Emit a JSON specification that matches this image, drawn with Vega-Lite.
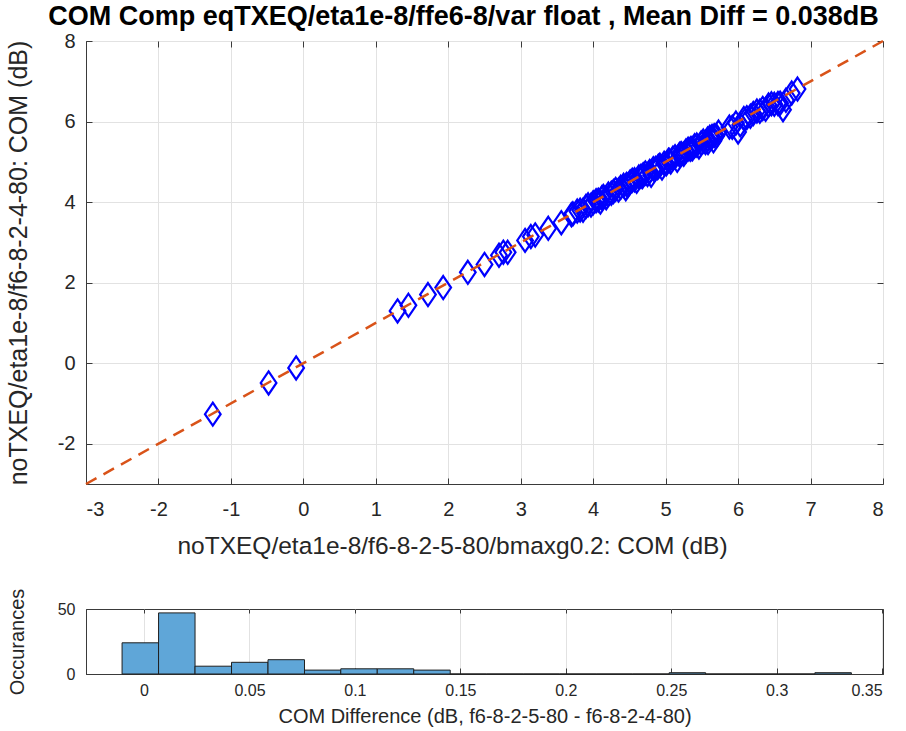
{
  "$schema": "https://vega.github.io/schema/vega-lite/v6.json",
  "background": "white",
  "padding": {"left": 5, "top": 2, "right": 5, "bottom": 0},
  "bounds": "flush",
  "spacing": 125,
  "config": {
    "font": "Liberation Sans",
    "view": {"stroke": "#3a3a3a", "strokeWidth": 1},
    "axis": {
      "labelFont": "Liberation Sans",
      "titleFont": "Liberation Sans",
      "labelColor": "#262626",
      "titleColor": "#262626",
      "titleFontWeight": "normal",
      "domainColor": "#3a3a3a",
      "tickColor": "#3a3a3a",
      "gridColor": "#e2e2e2",
      "tickSize": -6,
      "labelPadding": 17
    }
  },
  "vconcat": [
    {
      "width": 797,
      "height": 443,
      "title": {
        "text": "COM Comp eqTXEQ/eta1e-8/ffe6-8/var float , Mean Diff = 0.038dB",
        "font": "Liberation Sans",
        "fontSize": 27,
        "fontWeight": "bold",
        "color": "#000000",
        "anchor": "middle",
        "dx": -21,
        "offset": 0
      },
      "resolve": {"axis": {"x": "independent", "y": "independent"}},
      "layer": [
        {
          "data": {
            "values": [
              {"x": -1.25, "y": -1.265}, {"x": -0.48, "y": -0.49}, {"x": -0.1, "y": -0.118},
              {"x": 1.3, "y": 1.298}, {"x": 1.45, "y": 1.438}, {"x": 1.72, "y": 1.704},
              {"x": 1.93, "y": 1.878}, {"x": 2.27, "y": 2.256}, {"x": 2.5, "y": 2.452},
              {"x": 2.7, "y": 2.68}, {"x": 2.76, "y": 2.756}, {"x": 2.82, "y": 2.753},
              {"x": 3.06, "y": 3.049}, {"x": 3.14, "y": 3.144}, {"x": 3.2, "y": 3.183},
              {"x": 3.38, "y": 3.349}, {"x": 3.56, "y": 3.488}, {"x": 3.7, "y": 3.687},
              {"x": 3.72, "y": 3.708}, {"x": 3.78, "y": 3.777}, {"x": 3.82, "y": 3.801},
              {"x": 3.86, "y": 3.795}, {"x": 3.9, "y": 3.891}, {"x": 3.93, "y": 3.932},
              {"x": 3.97, "y": 3.925}, {"x": 4.0, "y": 3.984}, {"x": 4.04, "y": 4.035},
              {"x": 4.07, "y": 4.049}, {"x": 4.1, "y": 4.002}, {"x": 4.12, "y": 4.106},
              {"x": 4.14, "y": 4.139}, {"x": 4.18, "y": 4.109}, {"x": 4.21, "y": 4.199},
              {"x": 4.25, "y": 4.22}, {"x": 4.28, "y": 4.262}, {"x": 4.31, "y": 4.316},
              {"x": 4.35, "y": 4.298}, {"x": 4.38, "y": 4.367}, {"x": 4.42, "y": 4.416},
              {"x": 4.45, "y": 4.333}, {"x": 4.46, "y": 4.438}, {"x": 4.48, "y": 4.418},
              {"x": 4.51, "y": 4.502}, {"x": 4.54, "y": 4.54}, {"x": 4.57, "y": 4.555},
              {"x": 4.6, "y": 4.515}, {"x": 4.63, "y": 4.624}, {"x": 4.66, "y": 4.64},
              {"x": 4.68, "y": 4.633}, {"x": 4.69, "y": 4.68}, {"x": 4.72, "y": 4.723},
              {"x": 4.75, "y": 4.682}, {"x": 4.78, "y": 4.763}, {"x": 4.8, "y": 4.666},
              {"x": 4.83, "y": 4.828}, {"x": 4.86, "y": 4.837}, {"x": 4.89, "y": 4.856},
              {"x": 4.9, "y": 4.888}, {"x": 4.92, "y": 4.915}, {"x": 4.95, "y": 4.846},
              {"x": 4.98, "y": 4.964}, {"x": 5.01, "y": 4.954}, {"x": 5.04, "y": 5.041},
              {"x": 5.05, "y": 5.031}, {"x": 5.07, "y": 4.996}, {"x": 5.1, "y": 5.091},
              {"x": 5.13, "y": 5.127}, {"x": 5.16, "y": 5.038}, {"x": 5.19, "y": 5.176},
              {"x": 5.2, "y": 5.194}, {"x": 5.22, "y": 5.199}, {"x": 5.25, "y": 5.19},
              {"x": 5.28, "y": 5.269}, {"x": 5.31, "y": 5.315}, {"x": 5.34, "y": 5.311},
              {"x": 5.35, "y": 5.332}, {"x": 5.37, "y": 5.321}, {"x": 5.4, "y": 5.399},
              {"x": 5.43, "y": 5.417}, {"x": 5.46, "y": 5.37}, {"x": 5.49, "y": 5.468},
              {"x": 5.52, "y": 5.516}, {"x": 5.55, "y": 5.481}, {"x": 5.58, "y": 5.565},
              {"x": 5.585, "y": 5.477}, {"x": 5.61, "y": 5.608}, {"x": 5.64, "y": 5.63},
              {"x": 5.66, "y": 5.521}, {"x": 5.67, "y": 5.65}, {"x": 5.7, "y": 5.646},
              {"x": 5.73, "y": 5.738},
              {"x": 5.88, "y": 5.863}, {"x": 5.92, "y": 5.856}, {"x": 5.97, "y": 5.962},
              {"x": 6.0, "y": 5.743}, {"x": 6.03, "y": 5.917}, {"x": 6.08, "y": 6.075},
              {"x": 6.12, "y": 6.097}, {"x": 6.17, "y": 6.133}, {"x": 6.21, "y": 6.198},
              {"x": 6.26, "y": 6.26}, {"x": 6.3, "y": 6.256}, {"x": 6.34, "y": 6.324},
              {"x": 6.38, "y": 6.302}, {"x": 6.42, "y": 6.409}, {"x": 6.46, "y": 6.441},
              {"x": 6.5, "y": 6.428}, {"x": 6.55, "y": 6.45}, {"x": 6.58, "y": 6.454},
              {"x": 6.62, "y": 6.294}, {"x": 6.66, "y": 6.529}, {"x": 6.74, "y": 6.707},
              {"x": 6.82, "y": 6.806}
            ]
          },
          "mark": {
            "type": "point",
            "shape": "M0,-1.25L0.85,0L0,1.25L-0.85,0Z",
            "filled": false,
            "stroke": "#0000ff",
            "strokeWidth": 2.2,
            "size": 340,
            "opacity": 1
          },
          "encoding": {
            "x": {
              "field": "x",
              "type": "quantitative",
              "scale": {"domain": [-3, 8], "nice": false, "zero": false},
              "axis": {
                "values": [-3, -2, -1, 0, 1, 2, 3, 4, 5, 6, 7, 8],
                "labelExpr": "'' + datum.value",
                "labelFontSize": 20,
                "labelPadding": 21,
                "titleFontSize": 24.5,
                "title": "noTXEQ/eta1e-8/f6-8-2-5-80/bmaxg0.2: COM (dB)",
                "titlePadding": 15,
                "titleX": 366
              }
            },
            "y": {
              "field": "y",
              "type": "quantitative",
              "scale": {"domain": [-3, 8], "nice": false, "zero": false},
              "axis": {
                "values": [-2, 0, 2, 4, 6, 8],
                "labelExpr": "'' + datum.value",
                "labelFontSize": 20,
                "titleFontSize": 25,
                "title": "noTXEQ/eta1e-8/f6-8-2-4-80: COM (dB)",
                "titlePadding": 26
              }
            }
          }
        },
        {
          "data": {"values": [{"x": -3, "y": -3}, {"x": 8, "y": 8}]},
          "mark": {
            "type": "line",
            "color": "#D95319",
            "strokeWidth": 2.5,
            "strokeDash": [12, 8]
          },
          "encoding": {
            "x": {
              "field": "x",
              "type": "quantitative",
              "axis": {
                "orient": "top",
                "values": [-3, -2, -1, 0, 1, 2, 3, 4, 5, 6, 7, 8],
                "labels": false,
                "title": null,
                "grid": false,
                "domain": false
              }
            },
            "y": {
              "field": "y",
              "type": "quantitative",
              "axis": {
                "orient": "right",
                "values": [-2, 0, 2, 4, 6, 8],
                "labels": false,
                "title": null,
                "grid": false,
                "domain": false
              }
            }
          }
        }
      ]
    },
    {
      "width": 797,
      "height": 65,
      "data": {
        "values": [
          {"x0": -0.0104, "x1": 0.0069, "count": 24},
          {"x0": 0.0069, "x1": 0.0242, "count": 47},
          {"x0": 0.0242, "x1": 0.0415, "count": 6},
          {"x0": 0.0415, "x1": 0.0588, "count": 9},
          {"x0": 0.0588, "x1": 0.0761, "count": 11},
          {"x0": 0.0761, "x1": 0.0933, "count": 3},
          {"x0": 0.0933, "x1": 0.1106, "count": 4},
          {"x0": 0.1106, "x1": 0.1279, "count": 4},
          {"x0": 0.1279, "x1": 0.1452, "count": 3},
          {"x0": 0.1452, "x1": 0.1625, "count": 0},
          {"x0": 0.1625, "x1": 0.1798, "count": 0},
          {"x0": 0.1798, "x1": 0.1971, "count": 0},
          {"x0": 0.1971, "x1": 0.2144, "count": 0},
          {"x0": 0.2144, "x1": 0.2317, "count": 0},
          {"x0": 0.2317, "x1": 0.249, "count": 0},
          {"x0": 0.249, "x1": 0.2663, "count": 1},
          {"x0": 0.2663, "x1": 0.2836, "count": 0},
          {"x0": 0.2836, "x1": 0.3008, "count": 0},
          {"x0": 0.3008, "x1": 0.3181, "count": 0},
          {"x0": 0.3181, "x1": 0.3354, "count": 1}
        ]
      },
      "resolve": {"axis": {"x": "independent", "y": "independent"}},
      "layer": [
        {
          "mark": {"type": "rect", "fill": "#5fa6d8", "stroke": "#1f1f1f", "strokeWidth": 1},
          "encoding": {
            "x": {
              "field": "x0",
              "type": "quantitative",
              "scale": {"domain": [-0.0275, 0.3504], "nice": false, "zero": false},
              "axis": {
                "values": [0, 0.05, 0.1, 0.15, 0.2, 0.25, 0.3, 0.35],
                "format": "~g",
                "labelFontSize": 16,
                "titleFontSize": 20,
                "labelPadding": 14,
                "title": "COM Difference (dB, f6-8-2-5-80 - f6-8-2-4-80)",
                "titlePadding": 8
              }
            },
            "x2": {"field": "x1"},
            "y": {
              "field": "count",
              "type": "quantitative",
              "scale": {"domain": [0, 50], "nice": false},
              "axis": {
                "values": [0, 50],
                "grid": false,
                "labelFontSize": 16,
                "titleFontSize": 20,
                "title": "Occurances",
                "titlePadding": 30
              }
            },
            "y2": {"datum": 0}
          }
        },
        {
          "mark": {"type": "rect", "opacity": 0},
          "encoding": {
            "x": {
              "field": "x0",
              "type": "quantitative",
              "axis": {
                "orient": "top",
                "values": [0, 0.05, 0.1, 0.15, 0.2, 0.25, 0.3, 0.35],
                "labels": false,
                "title": null,
                "grid": false,
                "domain": false,
                "tickSize": -4
              }
            },
            "x2": {"field": "x1"},
            "y": {
              "field": "count",
              "type": "quantitative",
              "axis": {
                "orient": "right",
                "values": [0, 50],
                "labels": false,
                "title": null,
                "grid": false,
                "domain": false,
                "tickSize": -4
              }
            },
            "y2": {"datum": 0}
          }
        }
      ]
    }
  ]
}
